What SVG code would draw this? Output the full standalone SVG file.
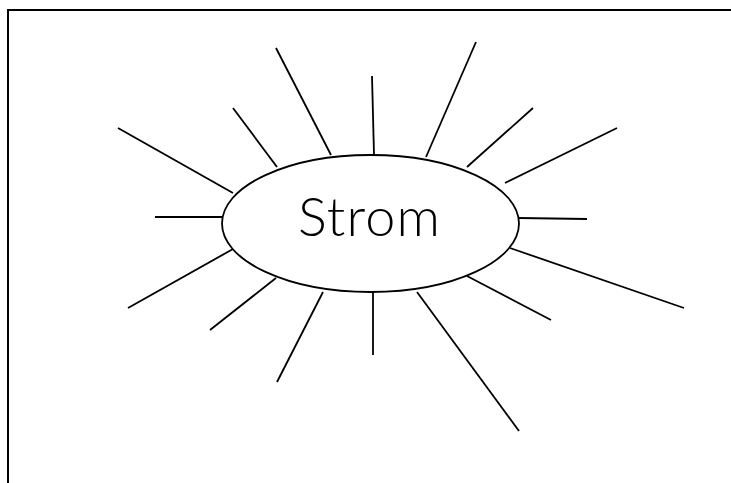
<svg xmlns="http://www.w3.org/2000/svg" width="731" height="483" viewBox="0 0 731 483">
<style>
.ray{stroke:#000;stroke-width:1.8;fill:none;stroke-linecap:butt}
.node{fill:#fff;stroke:#000;stroke-width:1.8}
.lbl{font-family:Lato,"Liberation Sans",sans-serif;font-size:54px;font-weight:300;fill:#000}
</style>
<rect x="0" y="0" width="731" height="483" fill="#fff"/>
<rect x="8" y="10" width="800" height="600" fill="none" stroke="#000" stroke-width="2"/>
<g id="connectors">
<line class="ray" x1="118" y1="128" x2="233" y2="193"/>
<line class="ray" x1="233" y1="108" x2="277" y2="167"/>
<line class="ray" x1="276" y1="48" x2="331" y2="155"/>
<line class="ray" x1="372" y1="76" x2="374" y2="155"/>
<line class="ray" x1="476" y1="42" x2="426" y2="157"/>
<line class="ray" x1="533" y1="108" x2="467" y2="167"/>
<line class="ray" x1="617" y1="128" x2="505" y2="183"/>
<line class="ray" x1="155" y1="217" x2="222" y2="217"/>
<line class="ray" x1="519" y1="218" x2="587" y2="219"/>
<line class="ray" x1="128" y1="308" x2="233" y2="249"/>
<line class="ray" x1="210" y1="330" x2="276" y2="278"/>
<line class="ray" x1="277" y1="382" x2="323" y2="292"/>
<line class="ray" x1="373" y1="292" x2="373" y2="355"/>
<line class="ray" x1="417" y1="292" x2="519" y2="431"/>
<line class="ray" x1="467" y1="276" x2="551" y2="320"/>
<line class="ray" x1="510" y1="248" x2="684" y2="308"/>
</g>
<g id="strom">
<ellipse class="node" cx="370.5" cy="223.5" rx="148.5" ry="68.5"/>
<text class="lbl" x="369" y="236" text-anchor="middle" textLength="142" lengthAdjust="spacing">Strom</text>
</g>
</svg>
